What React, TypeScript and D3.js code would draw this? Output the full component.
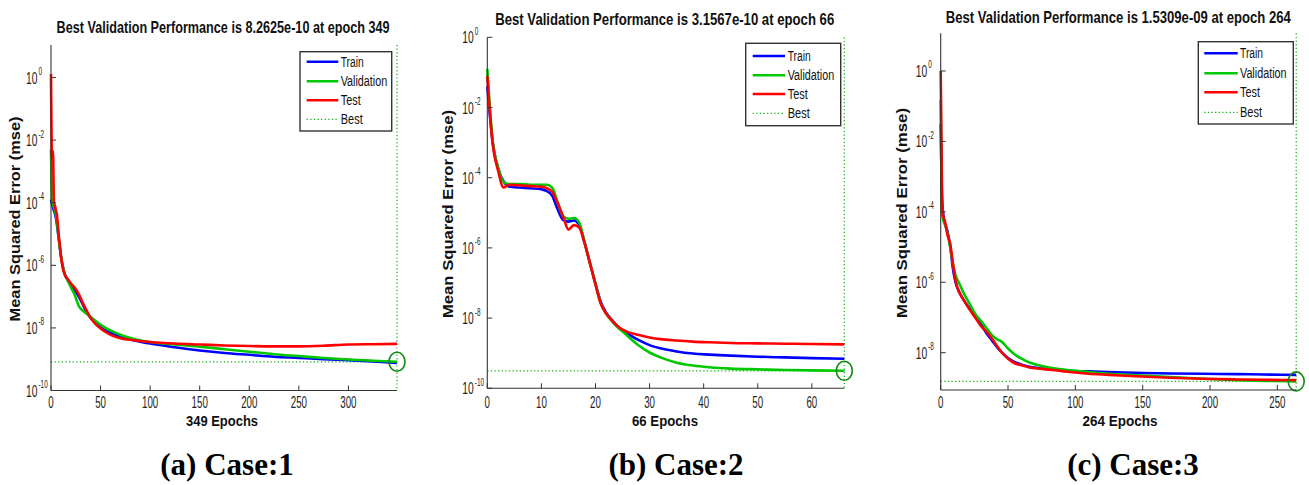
import React from "react";
import * as d3 from "d3";

// ---------- DATA (MSE values stored as log10 exponents) ----------
const seriesNames = ["Train", "Validation", "Test", "Best"];

const case1Epochs = [0, 1, 2, 3, 4, 5, 6, 7, 8, 9, 10, 12, 14, 17, 20, 24, 28, 32, 36, 40, 45, 50, 55, 60, 70, 80, 90, 100, 125, 150, 175, 200, 225, 250, 275, 300, 325, 349];
const case1TrainLog10 = [-3.9, -4.05, -4.15, -4.25, -4.35, -4.5, -4.7, -4.95, -5.2, -5.45, -5.7, -6.05, -6.3, -6.45, -6.6, -6.8, -7.0, -7.25, -7.5, -7.68, -7.85, -7.98, -8.08, -8.16, -8.28, -8.37, -8.44, -8.5, -8.62, -8.72, -8.8, -8.86, -8.92, -8.96, -9.0, -9.03, -9.07, -9.12];
const case1ValLog10 = [-2.3, -3.9, -4.05, -4.15, -4.25, -4.4, -4.6, -4.9, -5.2, -5.45, -5.7, -6.05, -6.3, -6.5, -6.7, -6.95, -7.3, -7.45, -7.55, -7.65, -7.78, -7.9, -8.0, -8.08, -8.22, -8.32, -8.4, -8.45, -8.53, -8.6, -8.68, -8.76, -8.84, -8.9, -8.96, -9.01, -9.05, -9.083];
const case1TestLog10 = [0.11, -2.6, -2.35, -4.0, -4.1, -4.25, -4.4, -4.75, -5.1, -5.4, -5.7, -6.1, -6.3, -6.45, -6.58, -6.72, -6.92, -7.2, -7.45, -7.68, -7.88, -8.02, -8.13, -8.22, -8.33, -8.38, -8.42, -8.45, -8.5, -8.53, -8.56, -8.58, -8.59, -8.59, -8.57, -8.53, -8.52, -8.51];

const case2Epochs = [0, 1, 2, 3, 4, 6, 8, 10, 11, 12, 13, 14, 15, 16, 17, 18, 19, 20, 21, 22, 23, 24, 25, 26, 28, 30, 32, 35, 38, 41, 45, 50, 55, 60, 66];
const case2TrainLog10 = [-1.4, -3.0, -3.75, -4.1, -4.25, -4.28, -4.3, -4.33, -4.38, -4.52, -4.9, -5.2, -5.25, -5.22, -5.35, -5.85, -6.45, -7.02, -7.55, -7.85, -8.05, -8.22, -8.35, -8.45, -8.63, -8.77, -8.86, -8.95, -9.01, -9.04, -9.07, -9.1, -9.12, -9.14, -9.16];
const case2ValLog10 = [-0.9, -2.95, -3.7, -4.12, -4.18, -4.18, -4.2, -4.2, -4.2, -4.28, -4.7, -5.1, -5.17, -5.15, -5.28, -5.85, -6.45, -7.02, -7.58, -7.88, -8.08, -8.25, -8.38, -8.52, -8.78, -8.98, -9.12, -9.27, -9.35, -9.4, -9.44, -9.46, -9.48, -9.49, -9.5];
const case2TestLog10 = [-1.1, -3.05, -3.8, -4.28, -4.2, -4.22, -4.24, -4.26, -4.3, -4.4, -4.72, -5.1, -5.48, -5.35, -5.42, -5.88, -6.45, -7.05, -7.6, -7.88, -8.06, -8.22, -8.33, -8.4, -8.48, -8.55, -8.6, -8.64, -8.67, -8.69, -8.71, -8.72, -8.73, -8.74, -8.75];

const case3Epochs = [0, 1, 2, 3, 5, 7, 9, 11, 14, 17, 21, 26, 30, 34, 38, 42, 45, 50, 55, 60, 66, 75, 85, 96, 110, 125, 145, 170, 195, 220, 240, 264];
const case3TrainLog10 = [-1.5, -3.6, -4.1, -4.3, -4.55, -4.95, -5.6, -6.0, -6.3, -6.5, -6.72, -7.0, -7.2, -7.45, -7.65, -7.85, -7.98, -8.15, -8.27, -8.34, -8.4, -8.45, -8.48, -8.52, -8.53, -8.55, -8.57, -8.59, -8.6, -8.61, -8.62, -8.63];
const case3ValLog10 = [-0.82, -4.0, -4.25, -4.35, -4.6, -5.0, -5.45, -5.8, -6.05, -6.3, -6.58, -6.92, -7.1, -7.3, -7.5, -7.62, -7.68, -7.88, -8.05, -8.17, -8.28, -8.38, -8.45, -8.5, -8.55, -8.6, -8.64, -8.69, -8.74, -8.78, -8.8, -8.815];
const case3TestLog10 = [0.0, -3.6, -4.15, -4.25, -4.65, -4.9, -5.45, -5.95, -6.3, -6.5, -6.75, -7.02, -7.25, -7.4, -7.6, -7.82, -7.98, -8.17, -8.3, -8.36, -8.42, -8.46, -8.5, -8.55, -8.6, -8.63, -8.67, -8.71, -8.74, -8.76, -8.77, -8.78];

const bestValues = [8.2625e-10, 3.1567e-10, 1.5309e-9];
const bestEpochs = [349, 66, 264];
const maxEpochs = [349, 66, 264];
const captions = ["(a) Case:1", "(b) Case:2", "(c) Case:3"];
const xTicks1 = [0, 50, 100, 150, 200, 250, 300];
const xTicks2 = [0, 10, 20, 30, 40, 50, 60];
const xTicks3 = [0, 50, 100, 150, 200, 250];
const yTickExps1 = [0, -2, -4, -6, -8, -10];
const yTickExps2 = [0, -2, -4, -6, -8, -10];
const yTickExps3 = [0, -2, -4, -6, -8];

// ---------- LAYOUT ----------
const panels = [
  {
    epochs: case1Epochs, train: case1TrainLog10, val: case1ValLog10, test: case1TestLog10,
    best: bestValues[0], bestEpoch: bestEpochs[0], xMax: maxEpochs[0], caption: captions[0],
    xTicks: xTicks1, yTickExps: yTickExps1,
    left: 51, right: 397, top: 45, bottom: 390.5, yMinExp: -10, yMaxExp: 1.04,
    titleX: 223, titleY: 32.5, titleW: 333,
    yLabelX: 19.5, yLabelY: 219, yLabelW: 205,
    xLabelX: 222, xLabelW: 72,
    captionX: 227,
    legend: { x: 300, y: 51.7, w: 91.7, h: 79.3, rows: [61.7, 81.2, 100.2, 119.3], lineX0: 306.7, lineX1: 338.3, textX: 340.7 },
  },
  {
    epochs: case2Epochs, train: case2TrainLog10, val: case2ValLog10, test: case2TestLog10,
    best: bestValues[1], bestEpoch: bestEpochs[1], xMax: maxEpochs[1], caption: captions[1],
    xTicks: xTicks2, yTickExps: yTickExps2,
    left: 487.3, right: 844.3, top: 37.3, bottom: 388.3, yMinExp: -10, yMaxExp: 0,
    titleX: 664.7, titleY: 25, titleW: 339,
    yLabelX: 452.5, yLabelY: 214, yLabelW: 208,
    xLabelX: 665, xLabelW: 66,
    captionX: 676,
    legend: { x: 745.7, y: 43.3, w: 95, h: 82.4, rows: [56, 75.3, 94, 113.3], lineX0: 752.7, lineX1: 785, textX: 787.7 },
  },
  {
    epochs: case3Epochs, train: case3TrainLog10, val: case3ValLog10, test: case3TestLog10,
    best: bestValues[2], bestEpoch: bestEpochs[2], xMax: maxEpochs[2], caption: captions[2],
    xTicks: xTicks3, yTickExps: yTickExps3,
    left: 940.7, right: 1296.2, top: 33.3, bottom: 390, yMinExp: -9.06, yMaxExp: 1.07,
    titleX: 1118.3, titleY: 23.3, titleW: 345,
    yLabelX: 906.5, yLabelY: 213, yLabelW: 210,
    xLabelX: 1120, xLabelW: 75,
    captionX: 1133,
    legend: { x: 1198.3, y: 41.7, w: 95, h: 82.3, rows: [53.3, 73.3, 92.3, 112.3], lineX0: 1204.3, lineX1: 1237.7, textX: 1240 },
  },
];

const COLORS = { train: "#0000ff", val: "#00c800", test: "#ff0000", best: "#00b000", circle: "#138a13" };
const SANS = "'Liberation Sans', Arial, Helvetica, sans-serif";
const SERIF = "'Liberation Serif', 'Times New Roman', serif";
const legendTextW: Record<string, number> = { Train: 23, Validation: 46.5, Test: 20, Best: 22 };

function Panel({ p }: { p: any }) {
  const x = d3.scaleLinear().domain([0, p.xMax]).range([p.left, p.right]);
  const y = d3.scaleLog().domain([Math.pow(10, p.yMinExp), Math.pow(10, p.yMaxExp)]).range([p.bottom, p.top]);
  const line = d3
    .line<[number, number]>()
    .x((d) => x(d[0]))
    .y((d) => y(d[1]))
    .curve(d3.curveMonotoneX);
  const mk = (logs: number[]) => p.epochs.map((e: number, i: number) => [e, Math.pow(10, logs[i])] as [number, number]);
  const bx = x(p.bestEpoch);
  const by = y(p.best);
  const lg = p.legend;
  const legendColors = [COLORS.train, COLORS.val, COLORS.test, COLORS.best];

  return (
    <g>
      {/* title */}
      <text x={p.titleX} y={p.titleY} textAnchor="middle" fontFamily={SANS} fontWeight="bold" fontSize={16.5}
        textLength={p.titleW} lengthAdjust="spacingAndGlyphs" fill="#111">
        {`Best Validation Performance is ${d3.format(".4e")(p.best).replace(/e([-+])(\d)$/, "e$10$2")} at epoch ${p.bestEpoch}`}
      </text>

      {/* best lines */}
      <line x1={p.left} x2={p.right} y1={by} y2={by} stroke={COLORS.best} strokeWidth={1.2} strokeDasharray="1.2 2.4" />
      <line x1={bx} x2={bx} y1={p.top} y2={p.bottom} stroke={COLORS.best} strokeWidth={1.2} strokeDasharray="1.2 2.4" />

      {/* curves */}
      <path d={line(mk(p.train)) || ""} fill="none" stroke={COLORS.train} strokeWidth={2.6} strokeLinejoin="round" />
      <path d={line(mk(p.val)) || ""} fill="none" stroke={COLORS.val} strokeWidth={2.6} strokeLinejoin="round" />
      <path d={line(mk(p.test)) || ""} fill="none" stroke={COLORS.test} strokeWidth={2.6} strokeLinejoin="round" />

      {/* best circle */}
      <ellipse cx={bx} cy={by} rx={8} ry={9.5} fill="none" stroke={COLORS.circle} strokeWidth={1.6} />

      {/* axes */}
      <line x1={p.left} x2={p.left} y1={p.top} y2={p.bottom} stroke="#333" strokeWidth={1.1} />
      <line x1={p.left} x2={p.right} y1={p.bottom} y2={p.bottom} stroke="#333" strokeWidth={1.1} />

      {/* x ticks */}
      {p.xTicks.map((t: number) => (
        <g key={`xt${t}`}>
          <line x1={x(t)} x2={x(t)} y1={p.bottom} y2={p.bottom - 5} stroke="#333" strokeWidth={1} />
          <text x={x(t)} y={408} textAnchor="middle" fontFamily={SANS} fontSize={16} fill="#222"
            textLength={String(t).length * 5.4} lengthAdjust="spacingAndGlyphs">{t}</text>
        </g>
      ))}

      {/* y ticks */}
      {p.yTickExps.map((e: number) => {
        const ty = y(Math.pow(10, e));
        return (
          <g key={`yt${e}`}>
            <line x1={p.left} x2={p.left + 5} y1={ty} y2={ty} stroke="#333" strokeWidth={1} />
            <g transform={`translate(${p.left - 25},${ty + 6}) scale(0.64,1)`}>
              <text x={0} y={0} fontFamily={SANS} fontSize={16} fill="#222">10</text>
              <text x={19.5} y={-8.5} fontFamily={SANS} fontSize={10} fill="#222">{String(e)}</text>
            </g>
          </g>
        );
      })}

      {/* axis labels */}
      <text transform={`translate(${p.yLabelX},${p.yLabelY}) rotate(-90)`} textAnchor="middle" fontFamily={SANS}
        fontWeight="bold" fontSize={15.5} fill="#111" textLength={p.yLabelW} lengthAdjust="spacingAndGlyphs">
        Mean Squared Error  (mse)
      </text>
      <text x={p.xLabelX} y={426} textAnchor="middle" fontFamily={SANS} fontWeight="bold" fontSize={15}
        fill="#111" textLength={p.xLabelW} lengthAdjust="spacingAndGlyphs">
        {`${p.xMax} Epochs`}
      </text>

      {/* legend */}
      <rect x={lg.x} y={lg.y} width={lg.w} height={lg.h} fill="#fff" stroke="#333" strokeWidth={1.4} />
      {seriesNames.map((name, i) => (
        <g key={name}>
          <line x1={lg.lineX0} x2={lg.lineX1} y1={lg.rows[i]} y2={lg.rows[i]} stroke={legendColors[i]}
            strokeWidth={name === "Best" ? 1.2 : 2.6} strokeDasharray={name === "Best" ? "1.2 2.4" : undefined} />
          <text x={lg.textX} y={lg.rows[i] + 5} fontFamily={SANS} fontSize={14} fill="#111"
            textLength={legendTextW[name]} lengthAdjust="spacingAndGlyphs">{name}</text>
        </g>
      ))}

      {/* caption */}
      <text x={p.captionX} y={475} textAnchor="middle" fontFamily={SERIF} fontWeight="bold" fontSize={31} fill="#000">
        {p.caption}
      </text>
    </g>
  );
}

export default function App() {
  return (
    <svg width={1309} height={485} style={{ position: "absolute", left: 0, top: 0, background: "#fff" }}>
      <rect x={0} y={0} width={1309} height={485} fill="#fff" />
      {panels.map((p, i) => (
        <Panel key={i} p={p} />
      ))}
    </svg>
  );
}
